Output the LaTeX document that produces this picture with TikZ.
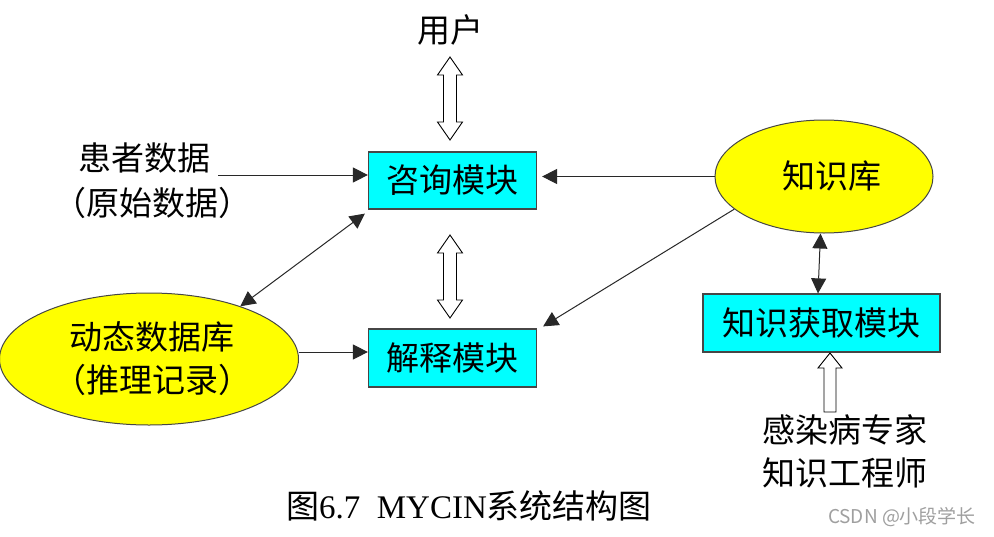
\documentclass[tikz,border=0pt]{standalone}
\usepackage{fontspec}
\setmainfont{Liberation Serif}
\newfontfamily\cjk{Noto Sans CJK SC}
\usetikzlibrary{arrows.meta,calc,shapes.geometric}
\definecolor{boxcyan}{RGB}{0,255,255}
\definecolor{ellyellow}{RGB}{255,255,0}
\definecolor{boxline}{RGB}{70,70,70}
\definecolor{linegray}{RGB}{40,40,40}
\begin{document}
\begin{tikzpicture}[x=1pt,y=-1pt,
  lbl/.style={font=\cjk\fontsize{33}{43}\selectfont, inner sep=0pt, align=center},
  box/.style={lbl, draw=boxline, line width=1.2pt, fill=boxcyan},
  ell/.style={lbl, ellipse, draw=boxline, line width=1pt, fill=ellyellow},
  conn/.style={draw=linegray, line width=1pt},
  arr/.style={conn, -{Triangle[length=15pt,width=15pt]}},
  darr/.style={conn, {Triangle[length=15pt,width=15pt]}-{Triangle[length=15pt,width=15pt]}},
  hollow/.style={draw=black, line width=0.9pt, fill=white, line join=miter}]
\useasboundingbox (0,0) rectangle (994,536);
\fill[white] (0,0) rectangle (994,536);

% nodes
\node[lbl] (user) at (450,30) {用户};
\node[box, minimum width=168pt, minimum height=57pt] (consult) at (452.5,180.5) {咨询模块};
\node[box, minimum width=168pt, minimum height=58pt] (explain) at (452.5,358) {解释模块};
\node[box, minimum width=237pt, minimum height=58pt] (kacq) at (821.5,323) {知识获取模块};
\node[ell, minimum width=218pt, minimum height=113pt] (kb) at (824,176.5) {\hspace*{16pt}知识库};
\node[ell, minimum width=299pt, minimum height=132pt] (db) at (149,359) {\hspace*{6pt}动态数据库\\\hspace*{6pt}（推理记录）};
\node[lbl] (pd1) at (144,158) {患者数据};
\node[lbl] (pd2) at (152,203) {（原始数据）};
\node[lbl] (ex1) at (845,430) {感染病专家};
\node[lbl] (ex2) at (845,473) {知识工程师};
\node[font=\fontsize{33}{33}\selectfont, inner sep=0pt] (cap) at (469,506) {{\cjk 图}6.7~~MYCIN{\cjk 系统结构图}};
\node[font=\cjk\fontsize{19}{19}\selectfont, text=gray!75, inner sep=0pt] (wm) at (902,517) {CSDN @小段学长};

% line connectors
\draw[arr] (218,175) coordinate (pdout) -- (pdout -| consult.west);
\draw[arr] (kb.west) -- ([xshift=5pt]kb.west -| consult.east);
\draw[arr] (kb.200) -- ($(explain.north east)+(6,-2)$);
\draw[darr] (db.30) -- ($(consult.south west)+(-3,4)$);
\draw[arr] ([yshift=7pt]db.east) -- ([yshift=7pt]db.east -| explain.west);
\draw[darr] ([xshift=-3.5pt]kb.south) -- ([xshift=-3.5pt]kacq.north);

% hollow arrows
\coordinate (uA) at (450,57); \coordinate (uB) at (450,140);
\draw[hollow] (uA) -- ++(12.5,18) -- ++(-6,0) -- ($(uB)+(6.5,-18)$) -- ++(6,0) -- (uB)
  -- ++(-12.5,-18) -- ++(6,0) -- ($(uA)+(-6.5,18)$) -- ++(-6,0) -- cycle;
\coordinate (mA) at (450,235); \coordinate (mB) at (450,318);
\draw[hollow] (mA) -- ++(12.5,18) -- ++(-6,0) -- ($(mB)+(6.5,-18)$) -- ++(6,0) -- (mB)
  -- ++(-12.5,-18) -- ++(6,0) -- ($(mA)+(-6.5,18)$) -- ++(-6,0) -- cycle;
\coordinate (eT) at (830,353); \coordinate (eB) at (830,412);
\draw[hollow] (eT) -- ++(12,15) -- ++(-6,0) -- ($(eB)+(6,0)$) -- ($(eB)+(-6,0)$)
  -- ($(eT)+(-6,15)$) -- ++(-6,0) -- cycle;
\end{tikzpicture}
\end{document}
